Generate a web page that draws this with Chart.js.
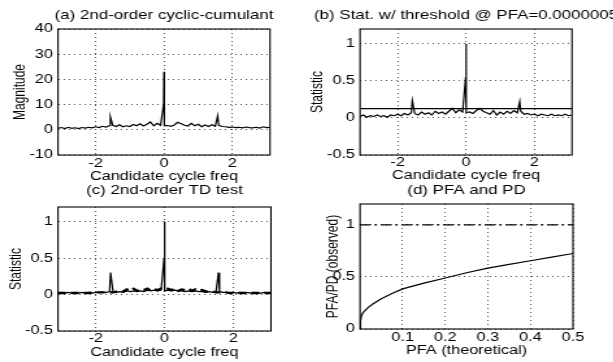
<!DOCTYPE html>
<html><head><meta charset="utf-8">
<script src="https://cdn.jsdelivr.net/npm/chart.js@4"></script>
<style>
html,body{margin:0;padding:0;background:#fff;width:613px;height:362px;overflow:hidden;position:relative}
.panel{position:absolute;transform-origin:0 0;transform:scaleX(1.3)}
</style></head><body>
<div class="panel" style="left:0px;top:0px"><canvas id="ca"></canvas></div>
<div class="panel" style="left:300px;top:0px"><canvas id="cb"></canvas></div>
<div class="panel" style="left:0px;top:178px"><canvas id="cc"></canvas></div>
<div class="panel" style="left:300px;top:178px"><canvas id="cd"></canvas></div>
<script>
// ---------------- data ----------------
const freq = [-3.1,-3.0,-2.9,-2.8,-2.7,-2.6,-2.5,-2.4,-2.3,-2.2,-2.1,-2.0,-1.9,-1.8,-1.7,-1.6,
  -1.57,
  -1.5,-1.4,-1.3,-1.2,-1.1,-1.0,-0.9,-0.8,-0.7,-0.6,-0.5,-0.4,-0.3,-0.2,-0.1,
  -0.01,0,0.01,
  0.1,0.2,0.3,0.4,0.5,0.6,0.7,0.8,0.9,1.0,1.1,1.2,1.3,1.4,1.5,
  1.57,
  1.6,1.7,1.8,1.9,2.0,2.1,2.2,2.3,2.4,2.5,2.6,2.7,2.8,2.9,3.0,3.1];

const magnitudeA = [0.6,0.9,0.5,1.0,0.6,0.8,0.5,0.9,0.7,1.0,0.8,1.2,0.9,1.4,1.1,1.6,
  5.2,
  1.8,1.3,2.0,1.2,1.6,1.3,2.1,1.6,2.4,1.5,2.2,3.1,1.6,2.6,1.8,
  10,23,1.6,
  1.7,1.4,1.9,3.0,2.4,1.8,1.5,2.6,1.6,2.2,1.2,1.9,1.3,2.0,1.4,
  5.6,
  1.8,1.3,1.2,1.0,1.1,0.9,1.0,0.8,1.1,0.9,0.8,1.0,0.7,1.2,0.9,1.0];

const statisticB = [0.02,0.04,0.01,0.03,0.02,0.04,0.02,0.03,0.01,0.04,0.03,0.05,0.03,0.06,0.04,0.07,
  0.23,
  0.06,0.04,0.08,0.05,0.07,0.04,0.09,0.06,0.08,0.05,0.09,0.13,0.07,0.11,0.08,
  0.55,1.0,0.07,
  0.08,0.06,0.10,0.13,0.09,0.07,0.05,0.10,0.04,0.08,0.05,0.09,0.06,0.10,0.07,
  0.22,
  0.09,0.05,0.06,0.04,0.05,0.03,0.05,0.04,0.03,0.05,0.03,0.04,0.03,0.05,0.03,0.04];
const thresholdFreq = [-3.1, 3.1];
const thresholdB = [0.125, 0.125];

const statisticC = [0.02,0.03,0.02,0.03,0.02,0.03,0.02,0.03,0.02,0.03,0.02,0.03,0.03,0.03,0.03,0.04,
  0.30,
  0.04,0.03,0.04,0.03,0.05,0.04,0.05,0.04,0.05,0.04,0.06,0.05,0.06,0.05,0.06,
  0.5,1.0,0.05,
  0.06,0.05,0.06,0.05,0.05,0.04,0.05,0.04,0.05,0.04,0.04,0.03,0.04,0.03,0.04,
  0.30,
  0.04,0.03,0.03,0.02,0.03,0.02,0.03,0.02,0.03,0.02,0.03,0.02,0.02,0.03,0.02,0.03];
const dashedC = [0.02,0.02,0.02,0.02,0.02,0.02,0.02,0.02,0.02,0.02,0.03,0.03,0.03,0.03,0.03,0.03,
  0.03,
  0.03,0.04,0.06,0.04,0.07,0.05,0.08,0.05,0.07,0.06,0.08,0.05,0.07,0.06,0.08,
  0.07,0.07,0.07,
  0.08,0.06,0.08,0.05,0.07,0.06,0.08,0.05,0.07,0.05,0.06,0.04,0.05,0.04,0.03,
  0.03,
  0.03,0.03,0.03,0.02,0.02,0.02,0.02,0.02,0.02,0.02,0.02,0.02,0.02,0.02,0.02,0.02];

const pfaTheoretical = [0,0.001,0.003,0.006,0.01,0.02,0.03,0.05,0.075,0.1,0.15,0.2,0.25,0.3,0.35,0.4,0.45,0.5];
const pfaObserved    = [0,0.08,0.12,0.15,0.17,0.21,0.24,0.29,0.34,0.385,0.44,0.49,0.54,0.585,0.62,0.655,0.69,0.725];
const pdX = [0, 0.5];
const pdObserved = [1, 1];

const freqTicks = [-2, 0, 2];
const freqTickLabels = ['-2', '0', '2'];
const magTicks = [-10, 0, 10, 20, 30, 40];
const magTickLabels = ['-10', '0', '10', '20', '30', '40'];
const statTicks = [-0.5, 0, 0.5, 1];
const statTickLabels = ['-0.5', '0', '0.5', '1'];
const pfaTicks = [0.1, 0.2, 0.3, 0.4, 0.5];
const pfaTickLabels = ['0.1', '0.2', '0.3', '0.4', '0.5'];
const pdTicks = [0, 0.5, 1];
const pdTickLabels = ['0', '0.5', '1'];

// ---------------- rendering ----------------
const S = 1.3;
const FONT = "'Liberation Sans', Arial, Helvetica, sans-serif";
const TITLE_SIZE = 13, TICK_SIZE = 12.5, XTITLE_SIZE = 12.5, YTITLE_SIZE = 12;
Chart.defaults.font.family = FONT;
Chart.defaults.color = '#000';

const framePlugin = {
  id: 'frame',
  afterDatasetsDraw(chart) {
    const {ctx, chartArea: a} = chart;
    ctx.save();
    ctx.strokeStyle = '#000';
    ctx.lineWidth = 1.1;
    ctx.strokeRect(a.left, a.top, a.right - a.left, a.bottom - a.top);
    ctx.restore();
  }
};
const titlePlugin = {
  id: 'panelTitle',
  afterDraw(chart, args, opts) {
    const {ctx, chartArea: a} = chart;
    ctx.save();
    ctx.font = opts.size + 'px ' + FONT;
    ctx.fillStyle = '#000';
    ctx.textAlign = 'center';
    ctx.textBaseline = 'middle';
    ctx.fillText(opts.text, (a.left + a.right) / 2, opts.y);
    ctx.restore();
  }
};

function pts(xs, ys) { return xs.map((x, i) => ({x: x, y: ys[i]})); }

function panel(id, g, datasets, xs, ys) {
  const iw = Math.round(g.W / S), ih = g.H;
  const cl = (g.L - g.left) / S, cr = (g.R - g.left) / S;
  const ct = g.T - g.top, cb = g.B - g.top;
  const xTitleLH = XTITLE_SIZE * 1.2, tickLH = TICK_SIZE * 1.2, yTitleLH = YTITLE_SIZE * 1.2;
  const xScaleBottom = Math.min(ih, g.xTitleY - g.top + xTitleLH / 2);
  const xh = xScaleBottom - cb;
  const canvas = document.getElementById(id);
  canvas.width = iw; canvas.height = ih;
  canvas.style.width = iw + 'px'; canvas.style.height = ih + 'px';
  const grid = {display: true, drawTicks: false, color: '#555', lineWidth: 1};
  const border = {display: false, dash: [1, 3]};
  new Chart(canvas, {
    type: 'line',
    data: {datasets: datasets},
    options: {
      responsive: false, animation: false, devicePixelRatio: 1,
      layout: {padding: {left: 0, top: ct, right: iw - cr, bottom: ih - xScaleBottom}},
      plugins: {legend: {display: false}, tooltip: {enabled: false},
        panelTitle: {text: g.title, y: g.titleY - g.top, size: TITLE_SIZE}},
      elements: {point: {radius: 0}, line: {tension: 0}},
      scales: {
        x: {type: 'linear', min: xs.min, max: xs.max, grid: grid, border: border,
          afterBuildTicks: s => { s.ticks = xs.ticks.map(v => ({value: v})); },
          afterFit: s => { s.height = xh; },
          ticks: {autoSkip: false, maxRotation: 0, minRotation: 0, padding: g.xTickY - g.top - cb - tickLH / 2,
            font: {size: TICK_SIZE}, callback: v => xs.labels[xs.ticks.indexOf(v)]},
          title: {display: true, text: xs.title, font: {size: XTITLE_SIZE}, padding: {top: 0, bottom: 0}}},
        y: {type: 'linear', min: ys.min, max: ys.max, grid: grid, border: border,
          afterBuildTicks: s => { s.ticks = ys.ticks.map(v => ({value: v})); },
          afterFit: s => { s.width = cl; },
          ticks: {padding: 5 / S, font: {size: TICK_SIZE}, callback: v => ys.labels[ys.ticks.indexOf(v)]},
          title: {display: true, text: ys.title, font: {size: YTITLE_SIZE},
            padding: {top: (g.yTitleX - g.left) / S - yTitleLH / 2, bottom: 0}}}
      }
    },
    plugins: [framePlugin, titlePlugin]
  });
}

const solid = (data, w) => ({data: data, borderColor: '#000', borderWidth: w || 1.2, fill: false, pointRadius: 0});
const freqAxis = {min: -3.1, max: 3.1, ticks: freqTicks, labels: freqTickLabels, title: 'Candidate cycle freq'};

panel('ca', {left: 0, top: 0, W: 300, H: 185, L: 58, R: 270, T: 29, B: 155, titleY: 15, xTitleY: 177, yTitleX: 20, xTickY: 164,
  title: '(a) 2nd-order cyclic-cumulant'},
  [solid(pts(freq, magnitudeA))],
  freqAxis, {min: -10, max: 40, ticks: magTicks, labels: magTickLabels, title: 'Magnitude'});

panel('cb', {left: 300, top: 0, W: 313, H: 185, L: 360, R: 572, T: 29, B: 155, titleY: 15, xTitleY: 176, yTitleX: 318, xTickY: 163,
  title: '(b) Stat. w/ threshold @ PFA=0.0000005'},
  [solid(pts(freq, statisticB)), solid(pts(thresholdFreq, thresholdB))],
  freqAxis, {min: -0.5, max: 1.2, ticks: statTicks, labels: statTickLabels, title: 'Statistic'});

panel('cc', {left: 0, top: 178, W: 300, H: 184, L: 58, R: 271, T: 207, B: 331, titleY: 190, xTitleY: 353, yTitleX: 17, xTickY: 339,
  title: '(c) 2nd-order TD test'},
  [Object.assign(solid(pts(freq, dashedC), 2.4), {borderDash: [6, 4]}), solid(pts(freq, statisticC))],
  freqAxis, {min: -0.5, max: 1.2, ticks: statTicks, labels: statTickLabels, title: 'Statistic'});

panel('cd', {left: 300, top: 178, W: 313, H: 184, L: 360, R: 573, T: 204, B: 329, titleY: 190, xTitleY: 351, yTitleX: 333, xTickY: 338,
  title: '(d) PFA and PD'},
  [solid(pts(pfaTheoretical, pfaObserved)), Object.assign(solid(pts(pdX, pdObserved)), {borderDash: [8, 3, 2, 3]})],
  {min: 0, max: 0.5, ticks: pfaTicks, labels: pfaTickLabels, title: 'PFA (theoretical)'},
  {min: 0, max: 1.2, ticks: pdTicks, labels: pdTickLabels, title: 'PFA/PD (observed)'});
</script>
</body></html>
